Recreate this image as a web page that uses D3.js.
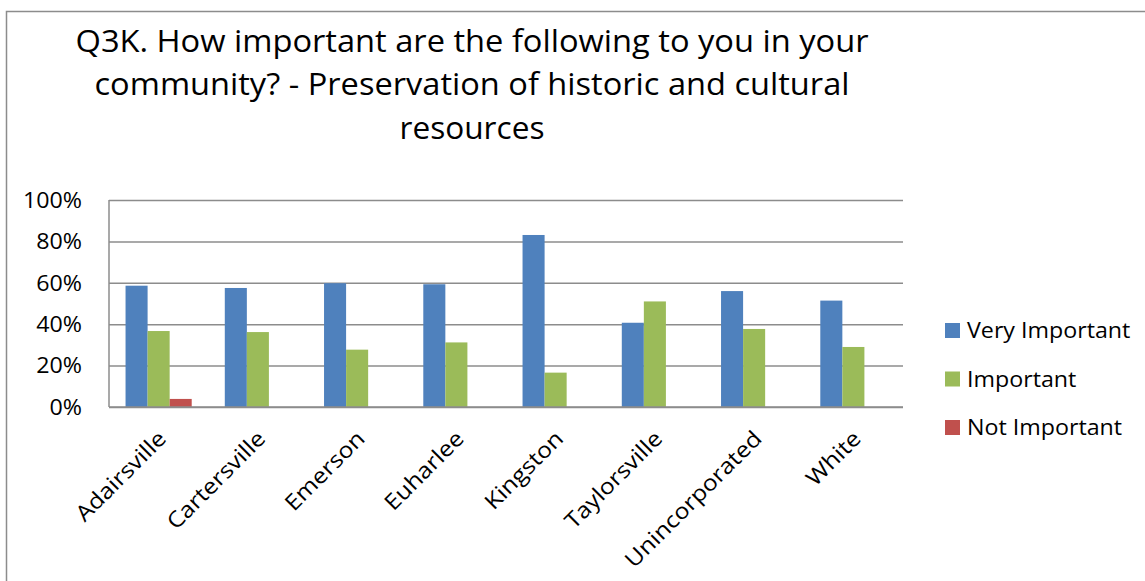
<!DOCTYPE html>
<html>
<head>
<meta charset="utf-8">
<script src="https://cdn.jsdelivr.net/npm/d3@7/dist/d3.min.js"></script>
<style>
  html, body { margin: 0; padding: 0; background: #fff; }
  svg { display: block; }
  text { font-family: "Open Sans", "Noto Sans", sans-serif; fill: #000; }
</style>
</head>
<body>
<svg id="chart" width="1145" height="581"></svg>
<script>
// ---- data ----
const categories = ["Adairsville", "Cartersville", "Emerson", "Euharlee", "Kingston", "Taylorsville", "Unincorporated", "White"];
const seriesNames = ["Very Important", "Important", "Not Important"];
const veryImportant = [0.586, 0.575, 0.598, 0.593, 0.831, 0.407, 0.560, 0.514];
const important     = [0.367, 0.362, 0.277, 0.312, 0.166, 0.510, 0.377, 0.290];
const notImportant  = [0.039, 0, 0, 0, 0, 0, 0, 0];
const yTicks = [0, 0.2, 0.4, 0.6, 0.8, 1.0];
const titleLines = [
  "Q3K. How important are the following to you in your",
  "community? - Preservation of historic and cultural",
  "resources"
];
const colors = ["#4F81BD", "#9BBB59", "#C0504D"];

const seriesValues = [veryImportant, important, notImportant];

// ---- layout ----
const svg = d3.select("#chart");
const plot = { left: 109, right: 903, top: 200, bottom: 407 };

// widen text a bit to mimic the narrower-but-larger Calibri look
function stretch(sel, k) {
  sel.each(function () {
    const len = this.getComputedTextLength();
    d3.select(this).attr("textLength", len * k).attr("lengthAdjust", "spacingAndGlyphs");
  });
}

// frame
svg.append("rect")
  .attr("x", 6.5).attr("y", 11.5)
  .attr("width", 1145).attr("height", 600)
  .attr("fill", "#fff").attr("stroke", "#8c8c8c").attr("stroke-width", 1.5);

// title
const titleY = [52, 95, 139];
const titleLen = [793, 755, 145];
svg.append("g").selectAll("text").data(titleLines).join("text")
  .attr("x", 472)
  .attr("y", (d, i) => titleY[i])
  .attr("text-anchor", "middle")
  .attr("font-size", 31)
  .attr("textLength", (d, i) => titleLen[i])
  .attr("lengthAdjust", "spacingAndGlyphs")
  .text(d => d);

// scales
const x0 = d3.scaleBand().domain(categories).range([plot.left, plot.right]).paddingInner(0).paddingOuter(0);
const y = d3.scaleLinear().domain([0, 1]).range([plot.bottom, plot.top]);
const groupW = x0.bandwidth() * 3 / 4.5;
const x1 = d3.scaleBand().domain(d3.range(seriesNames.length)).range([0, groupW]).padding(0);

// gridlines
svg.append("g")
  .attr("transform", `translate(${plot.left},0)`)
  .call(d3.axisLeft(y).tickValues(yTicks).tickSize(-(plot.right - plot.left)).tickFormat(""))
  .call(g => g.select(".domain").remove())
  .call(g => g.selectAll(".tick line").attr("stroke", "#8c8c8c").attr("stroke-width", 1.5));

// y labels
svg.append("g").selectAll("text").data(yTicks).join("text")
  .attr("x", 82)
  .attr("y", d => y(d))
  .attr("dy", "0.36em")
  .attr("text-anchor", "end")
  .attr("font-size", 21.5)
  .text(d => d3.format(".0%")(d))
  .call(stretch, 1.08);

// bars
const groups = svg.append("g").selectAll("g").data(categories).join("g")
  .attr("transform", d => `translate(${x0(d) + (x0.bandwidth() - groupW) / 2},0)`);
groups.selectAll("rect")
  .data((d, ci) => seriesValues.map((vals, si) => ({ si, v: vals[ci] })).filter(o => o.v > 0))
  .join("rect")
  .attr("x", d => x1(d.si))
  .attr("width", x1.bandwidth())
  .attr("y", d => y(d.v))
  .attr("height", d => y(0) - y(d.v))
  .attr("fill", d => colors[d.si]);

// axes lines
svg.append("line")
  .attr("x1", plot.left).attr("x2", plot.left)
  .attr("y1", plot.top).attr("y2", plot.bottom)
  .attr("stroke", "#8c8c8c").attr("stroke-width", 1.5);
svg.append("line")
  .attr("x1", plot.left).attr("x2", plot.right)
  .attr("y1", plot.bottom).attr("y2", plot.bottom)
  .attr("stroke", "#8c8c8c").attr("stroke-width", 1.5);

// x labels
svg.append("g").selectAll("text").data(categories).join("text")
  .attr("transform", d => `translate(${x0(d) + x0.bandwidth() / 2 + 9},${plot.bottom + 33}) rotate(-45)`)
  .attr("text-anchor", "end")
  .attr("font-size", 22)
  .text(d => d)
  .call(stretch, 1.12);

// legend
const legY = [330.5, 379, 427.5];
const leg = svg.append("g").selectAll("g").data(seriesNames).join("g")
  .attr("transform", (d, i) => `translate(945,${legY[i]})`);
leg.append("rect")
  .attr("x", 0).attr("y", -7.5).attr("width", 15).attr("height", 15)
  .attr("fill", (d, i) => colors[i]);
leg.append("text")
  .attr("x", 22).attr("y", 0).attr("dy", "0.36em")
  .attr("font-size", 21.5)
  .text(d => d)
  .call(stretch, 1.08);
</script>
</body>
</html>
